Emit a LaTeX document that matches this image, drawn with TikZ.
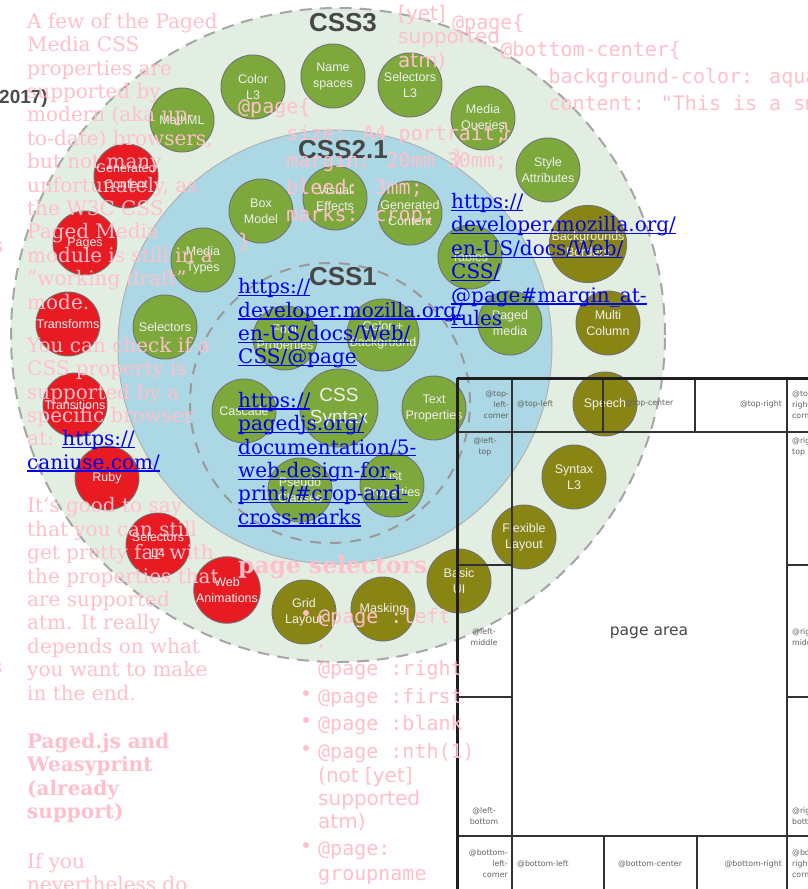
\documentclass[tikz,border=0pt]{standalone}
\usepackage{fontspec}
\setmainfont{DejaVu Serif}
\newfontfamily\monof{DejaVu Sans Mono}
\newfontfamily\dsans{DejaVu Sans}
\newfontfamily\arialf{Liberation Sans}
\definecolor{ringgreen}{RGB}{227,238,226}
\definecolor{ringblue}{RGB}{172,215,228}
\definecolor{bgreen}{RGB}{124,168,60}
\definecolor{bred}{RGB}{232,26,34}
\definecolor{bolive}{RGB}{136,133,20}
\definecolor{pinktxt}{RGB}{255,192,203}
\definecolor{linkblue}{RGB}{0,0,238}
\newcommand\bubf{\arialf\fontsize{12.5}{16}\selectfont}
\newcommand\bigbubf{\arialf\fontsize{19}{22}\selectfont}
\newcommand\csslabf{\arialf\bfseries\fontsize{26}{28}\selectfont}
\newcommand\serf{\fontsize{20}{23.4}\selectfont}
\newcommand\codef{\monof\fontsize{20}{27}\selectfont}
\newcommand\listf{\monof\fontsize{20}{23.4}\selectfont}
\newcommand\sansf{\dsans\fontsize{20}{23.4}\selectfont}
\newcommand\mboxf{\dsans\fontsize{7.8}{11}\selectfont}
\newcommand\lk[1]{{\color{linkblue}\setbox0\hbox{#1}\rlap{\rule[-2.4pt]{\wd0}{1.2pt}}\box0}}
\newcommand\indf{\hspace*{48.16pt}}
\newcommand\indg{\hspace*{96.32pt}}
\begin{document}
\begin{tikzpicture}[x=1pt,y=-1pt,
  bub/.style={circle,draw=black!55,line width=0.9pt,minimum size=64pt,inner sep=0pt,align=center,font=\bubf,text=white!88!gray},
  gb/.style={bub,fill=bgreen},
  rb/.style={bub,fill=bred},
  ob/.style={bub,fill=bolive},
  csslab/.style={font=\csslabf,text=black!72,inner sep=0pt},
  pbline/.style={line width=2pt,draw=black!80},
  pbouter/.style={line width=3pt,draw=black!88},
  mbox/.style={font=\mboxf,text=black!62,inner sep=0pt},
  ptext/.style={anchor=north west,inner sep=0pt,align=left,text=pinktxt,font=\serf},
  pcode/.style={anchor=north west,inner sep=0pt,align=left,text=pinktxt,font=\codef},
  plist/.style={anchor=base west,inner sep=0pt,text=pinktxt,font=\listf},
  pbul/.style={circle,fill=pinktxt,inner sep=0pt,minimum size=6pt}]
\useasboundingbox (0,0) rectangle (807,889);
\fill[white] (0,0) rectangle (807,889);
% rings
\fill[ringgreen] (338,335) circle[radius=327pt];
\draw[black!35,line width=2pt,dash pattern=on 12pt off 8pt] (338,335) circle[radius=327pt];
\filldraw[fill=ringblue,draw=black!30,line width=1pt] (335,347) circle[radius=217pt];
\draw[black!40,line width=2pt,dash pattern=on 11pt off 9pt] (330,403) circle[radius=140pt];
\node[csslab] (l3) at (343,23) {CSS3};
\node[csslab] (l21) at (343,150) {CSS2.1};
\node[csslab] (l1) at (343,277) {CSS1};
% CSS3 bubbles
\node[gb] (b1) at (253,87) {Color\\L3};
\node[gb] (b2) at (333,76) {Name\\spaces};
\node[gb] (b3) at (410,85) {Selectors\\L3};
\node[gb] (b4) at (483,118) {Media\\Queries};
\node[gb] (b5) at (548,170) {Style\\Attributes};
\node[gb] (b6) at (182,120) {MathML};
\node[rb] (r1) at (126,176) {Generated\\Content};
\node[rb] (r2) at (85,243) {Pages};
\node[rb] (r3) at (68,324) {Transforms};
\node[rb] (r4) at (75,405) {Transitions};
\node[rb] (r5) at (107,478) {Ruby};
\node[rb] (r6) at (158,545) {Selectors\\L4};
\node[rb] (r7) at (227,590) {Web\\Animations};
\node[ob] (o1) at (304,612) {Grid\\Layout};
\node[ob] (o2) at (383,609) {Masking};
\node[ob] (o3) at (459,581) {Basic\\UI};
\node[ob] (o4) at (524,537) {Flexible\\Layout};
\node[ob] (o5) at (574,477) {Syntax\\L3};
\node[ob] (o6) at (605,404) {Speech};
\node[ob] (o7) at (608,323) {Multi\\Column};
\node[ob] (o8) at (588,244) {Backgrounds\\Borders};
% CSS2.1 bubbles
\node[gb] (c1) at (261,211) {Box\\Model};
\node[gb] (c2) at (335,198) {Visual\\Effects};
\node[gb] (c3) at (410,213) {Generated\\Content};
\node[gb] (c4) at (203,260) {Media\\Types};
\node[gb] (c5) at (165,327) {Selectors};
\node[gb] (c6) at (470,257) {Tables};
\node[gb] (c7) at (510,323) {Paged\\media};
\node[gb] (c8) at (244,411) {Cascade};
\node[gb] (c9) at (434,408) {Text\\Properties};
\node[gb] (c10) at (300,490) {Pseudo\\Classes};
\node[gb] (c11) at (392,485) {List\\Properties};
% CSS1 bubbles
\node[gb] (d1) at (285,338) {Font\\Properties};
\node[gb] (d2) at (383,335) {Color +\\Background};
\node[gb,minimum size=78pt,font=\bigbubf] (d3) at (339,408) {CSS\\Syntax};
% heading fragment
\node[anchor=base west,inner sep=0pt,font=\arialf\bfseries\fontsize{19}{24}\selectfont,text=black!70] (yr) at (-1,103) {2017)};
% page margin boxes
\draw[pbline] (457,432) -- (830,432);
\draw[pbline] (512,378) -- (512,900);
\draw[pbline] (787,378) -- (787,900);
\draw[pbline] (603,378) -- (603,432);
\draw[pbline] (695,378) -- (695,432);
\draw[pbline] (457,836) -- (830,836);
\draw[pbline] (604,836) -- (604,900);
\draw[pbline] (697,836) -- (697,900);
\draw[pbline] (457,565) -- (512,565);
\draw[pbline] (457,697) -- (512,697);
\draw[pbline] (787,565) -- (830,565);
\draw[pbline] (787,697) -- (830,697);
\draw[pbouter] (457,378) -- (830,378);
\draw[pbouter] (457,378) -- (457,900);
\node[mbox,anchor=east,align=right] (m1) at (509,405) {@top-\\left-\\corner};
\node[mbox,anchor=west] (m2) at (517,404) {@top-left};
\node[mbox] (m3) at (649,404) {@top-center};
\node[mbox,anchor=east] (m4) at (782,404) {@top-right};
\node[mbox,anchor=west,align=left] (m5) at (792,405) {@top-\\right-\\corner};
\node[mbox,align=center] (m6) at (485,447) {@left-\\top};
\node[mbox,align=center] (m7) at (484,637) {@left-\\middle};
\node[mbox,align=center] (m8) at (484,816) {@left-\\bottom};
\node[mbox,anchor=west,align=left] (m9) at (792,447) {@right-\\top};
\node[mbox,anchor=west,align=left] (m10) at (792,637) {@right-\\middle};
\node[mbox,anchor=west,align=left] (m11) at (792,816) {@right-\\bottom};
\node[mbox,anchor=east,align=right] (m12) at (508,864) {@bottom-\\left-\\corner};
\node[mbox,anchor=west] (m13) at (517,864) {@bottom-left};
\node[mbox] (m14) at (650,864) {@bottom-center};
\node[mbox,anchor=east] (m15) at (782,864) {@bottom-right};
\node[mbox,anchor=west,align=left] (m16) at (792,864) {@bottom-\\right-\\corner};
\node[font=\dsans\fontsize{15.5}{18}\selectfont,text=black!72,inner sep=0pt] (parea) at (649,633) {page area};
% pink text, left column
\node[ptext] (p1) at (27,11.62) {\strut A few of the Paged\\Media CSS\\properties are\\supported by\\modern (aka up-\\to-date) browsers,\\but not many\\unfortunately, as\\the W3C CSS\\Paged Media\\module is still in a\\"working draft"\\mode.};
\node[ptext] (p2) at (27,335.62) {\strut You can check if a\\CSS property is\\supported by a\\specific browser\\at: \lk{https://}\\\lk{caniuse.com/}};
\node[ptext] (p3) at (27,496.22) {\strut It's good to say\\that you can still\\get pretty far with\\the properties that\\are supported\\atm. It really\\depends on what\\you want to make\\in the end.};
\node[ptext,font=\serf\bfseries] (p4) at (27,731.62) {\strut Paged.js and\\Weasyprint\\(already\\support)};
\node[ptext] (p5) at (27,851.62) {\strut If you\\nevertheless do};
\node[anchor=base west,inner sep=0pt,text=pinktxt,font=\serf] (s1) at (-7,252) {s};
\node[anchor=base west,inner sep=0pt,text=pinktxt,font=\serf] (s2) at (-8,673) {s};
% links
\node[ptext] (k1) at (238,277.12) {\strut\lk{https://}\\\lk{developer.mozilla.org/}\\\lk{en-US/docs/Web/}\\\lk{CSS/@page}};
\node[ptext] (k2) at (238,390.62) {\strut\lk{https://}\\\lk{pagedjs.org/}\\\lk{documentation/5-}\\\lk{web-design-for-}\\\lk{print/\#crop-and-}\\\lk{cross-marks}};
\node[ptext] (k3) at (451,191.92) {\strut\lk{https://}\\\lk{developer.mozilla.org/}\\\lk{en-US/docs/Web/}\\\lk{CSS/}\\\lk{@page\#margin\_at-}\\\lk{rules}};
% code blocks
\node[pcode] (code1) at (238,94.1) {\strut @page\{\\\indf size: A4 portrait;\\\indf margin: 20mm 30mm;\\\indf bleed: 3mm;\\\indf marks: crop;\\\}};
\node[pcode] (code2) at (452,10.1) {\strut @page\{\\\indf @bottom-center\{\\\indg background-color: aqua;\\\indg content: "This is a small text";\\\indf \}\\\}};
\node[ptext,font=\sansf] (yet) at (398,-19.78) {\strut (not\\{}[yet]\\supported\\atm)};
% page selectors
\node[anchor=base west,inner sep=0pt,text=pinktxt,font=\fontsize{23.4}{28}\selectfont\bfseries] (psel) at (238,573) {page selectors};
\node[pbul] (u1) at (306,613) {};
\node[plist] (i1) at (318,623) {@page :left};
\node[anchor=base west,inner sep=0pt,text=pinktxt,font=\serf] (i1b) at (318,646) {,};
\node[plist] (i1c) at (318,675) {@page :right};
\node[pbul] (u2) at (306,693) {};
\node[plist] (i2) at (318,703) {@page :first};
\node[pbul] (u3) at (306,720) {};
\node[plist] (i3) at (318,730) {@page :blank};
\node[pbul] (u4) at (306,748) {};
\node[plist] (i4) at (318,758) {@page :nth(1)};
\node[anchor=base west,inner sep=0pt,text=pinktxt,font=\sansf] (i4b) at (318,782) {(not [yet]};
\node[anchor=base west,inner sep=0pt,text=pinktxt,font=\sansf] (i4c) at (318,805) {supported};
\node[anchor=base west,inner sep=0pt,text=pinktxt,font=\sansf] (i4d) at (318,828) {atm)};
\node[pbul] (u5) at (306,845) {};
\node[plist] (i5) at (318,855) {@page:};
\node[plist] (i5b) at (318,880) {groupname};
\end{tikzpicture}
\end{document}
